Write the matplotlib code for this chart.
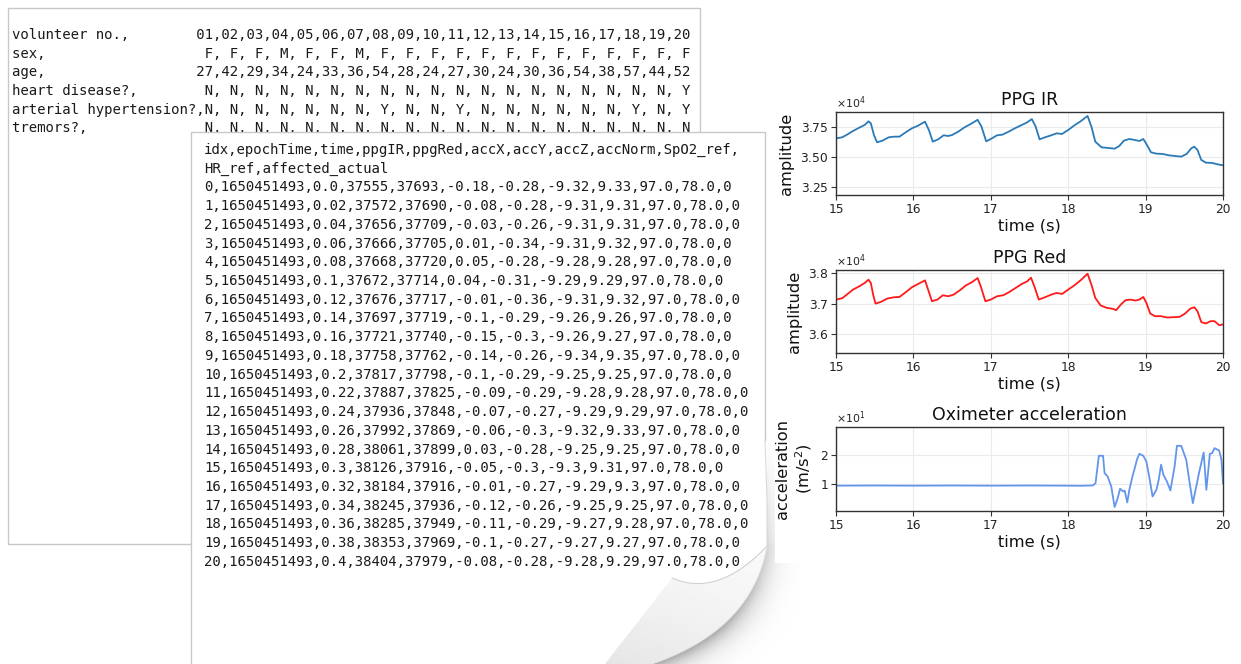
import numpy as np
import matplotlib
matplotlib.use('Agg')
import matplotlib.pyplot as plt
from matplotlib.patches import Polygon, Rectangle

# ---------------- data ----------------
volunteer_no = ['01', '02', '03', '04', '05', '06', '07', '08', '09', '10',
                '11', '12', '13', '14', '15', '16', '17', '18', '19', '20']
sex = ['F', 'F', 'F', 'M', 'F', 'F', 'M', 'F', 'F', 'F',
       'F', 'F', 'F', 'F', 'F', 'F', 'F', 'F', 'F', 'F']
age = [27, 42, 29, 34, 24, 33, 36, 54, 28, 24, 27, 30, 24, 30, 36, 54, 38, 57, 44, 52]
heart_disease = ['N', 'N', 'N', 'N', 'N', 'N', 'N', 'N', 'N', 'N',
                 'N', 'N', 'N', 'N', 'N', 'N', 'N', 'N', 'N', 'Y']
arterial_hypertension = ['N', 'N', 'N', 'N', 'N', 'N', 'N', 'Y', 'N', 'N',
                         'Y', 'N', 'N', 'N', 'N', 'N', 'N', 'Y', 'N', 'Y']
tremors = ['N', 'N', 'N', 'N', 'N', 'N', 'N', 'N', 'N', 'N',
           'N', 'N', 'N', 'N', 'N', 'N', 'N', 'N', 'N', 'N']

csv_columns = ['idx', 'epochTime', 'time', 'ppgIR', 'ppgRed', 'accX', 'accY', 'accZ',
               'accNorm', 'SpO2_ref', 'HR_ref', 'affected_actual']
idx = list(range(21))
epoch_time = [1650451493] * 21
time_s = [0.0, 0.02, 0.04, 0.06, 0.08, 0.1, 0.12, 0.14, 0.16, 0.18, 0.2,
          0.22, 0.24, 0.26, 0.28, 0.3, 0.32, 0.34, 0.36, 0.38, 0.4]
ppg_ir = [37555, 37572, 37656, 37666, 37668, 37672, 37676, 37697, 37721, 37758, 37817,
          37887, 37936, 37992, 38061, 38126, 38184, 38245, 38285, 38353, 38404]
ppg_red = [37693, 37690, 37709, 37705, 37720, 37714, 37717, 37719, 37740, 37762, 37798,
           37825, 37848, 37869, 37899, 37916, 37916, 37936, 37949, 37969, 37979]
acc_x = [-0.18, -0.08, -0.03, 0.01, 0.05, 0.04, -0.01, -0.1, -0.15, -0.14, -0.1,
         -0.09, -0.07, -0.06, 0.03, -0.05, -0.01, -0.12, -0.11, -0.1, -0.08]
acc_y = [-0.28, -0.28, -0.26, -0.34, -0.28, -0.31, -0.36, -0.29, -0.3, -0.26, -0.29,
         -0.29, -0.27, -0.3, -0.28, -0.3, -0.27, -0.26, -0.29, -0.27, -0.28]
acc_z = [-9.32, -9.31, -9.31, -9.31, -9.28, -9.29, -9.31, -9.26, -9.26, -9.34, -9.25,
         -9.28, -9.29, -9.32, -9.25, -9.3, -9.29, -9.25, -9.27, -9.27, -9.28]
acc_norm = [9.33, 9.31, 9.31, 9.32, 9.28, 9.29, 9.32, 9.26, 9.27, 9.35, 9.25,
            9.28, 9.29, 9.33, 9.25, 9.31, 9.3, 9.25, 9.28, 9.27, 9.29]
spo2_ref = [97.0] * 21
hr_ref = [78.0] * 21
affected_actual = [0] * 21

# PPG IR signal (time in s, raw amplitude)
ir_t = [15.00, 15.08, 15.15, 15.22, 15.30, 15.37, 15.42, 15.45, 15.49, 15.53, 15.60, 15.68,
        15.75, 15.82, 15.90, 15.98, 16.06, 16.15, 16.20, 16.25, 16.32, 16.39, 16.45, 16.50,
        16.58, 16.66, 16.74, 16.83, 16.88, 16.94, 17.00, 17.08, 17.15, 17.23, 17.31, 17.40,
        17.47, 17.53, 17.58, 17.63, 17.70, 17.78, 17.85, 17.92, 18.00, 18.08, 18.16, 18.25,
        18.30, 18.35, 18.43, 18.52, 18.60, 18.66, 18.72, 18.79, 18.86, 18.92, 18.97, 19.01,
        19.07, 19.14, 19.22, 19.30, 19.38, 19.46, 19.53, 19.59, 19.63, 19.67, 19.72, 19.78,
        19.86, 19.93, 20.00]
ir_v = [36556, 36639, 36889, 37167, 37444, 37667, 37972, 37806, 36833, 36222, 36361, 36639,
        36694, 36694, 37056, 37389, 37611, 37944, 37250, 36278, 36472, 36806, 36750, 36833,
        37111, 37472, 37750, 38100, 37528, 36306, 36500, 36806, 36861, 37111, 37389, 37667,
        37889, 38160, 37528, 36472, 36639, 36806, 36972, 36917, 37250, 37639, 37972, 38420,
        37528, 36278, 35806, 35750, 35694, 35917, 36361, 36500, 36417, 36333, 36500, 36083,
        35389, 35278, 35250, 35139, 35083, 35028, 35250, 35722, 35861, 35583, 34750, 34528,
        34500, 34389, 34306]

# PPG Red signal
red_t = [15.00, 15.08, 15.15, 15.22, 15.30, 15.37, 15.42, 15.45, 15.48, 15.51, 15.58, 15.66,
         15.75, 15.82, 15.90, 15.98, 16.06, 16.15, 16.19, 16.24, 16.31, 16.38, 16.45, 16.52,
         16.60, 16.68, 16.76, 16.83, 16.87, 16.93, 17.00, 17.08, 17.16, 17.24, 17.32, 17.40,
         17.47, 17.52, 17.57, 17.62, 17.70, 17.78, 17.85, 17.92, 18.00, 18.08, 18.16, 18.25,
         18.30, 18.35, 18.42, 18.50, 18.58, 18.62, 18.68, 18.74, 18.80, 18.87, 18.92, 18.97,
         19.01, 19.06, 19.12, 19.20, 19.28, 19.36, 19.44, 19.51, 19.58, 19.63, 19.67, 19.72,
         19.78, 19.84, 19.89, 19.95, 20.00]
red_v = [37130, 37174, 37315, 37457, 37565, 37674, 37783, 37674, 37293, 37000, 37054, 37163,
         37207, 37217, 37370, 37533, 37641, 37761, 37457, 37076, 37130, 37272, 37239, 37293,
         37435, 37598, 37707, 37837, 37565, 37076, 37130, 37239, 37272, 37380, 37511, 37641,
         37728, 37848, 37511, 37130, 37207, 37293, 37348, 37315, 37457, 37598, 37761, 37978,
         37620, 37185, 36935, 36859, 36826, 36783, 36967, 37109, 37130, 37098, 37130, 37217,
         37022, 36674, 36587, 36587, 36543, 36554, 36565, 36674, 36837, 36880, 36750, 36391,
         36348, 36424, 36424, 36293, 36315]

# Oximeter acceleration norm (m/s^2)
acc_t = [15.00, 15.50, 16.00, 16.50, 17.00, 17.50, 18.00, 18.15, 18.32, 18.353, 18.396,
         18.45, 18.47, 18.51, 18.556, 18.60, 18.64, 18.67, 18.71, 18.73, 18.763, 18.79,
         18.83, 18.86, 18.89, 18.92, 18.97, 19.01, 19.05, 19.09, 19.14, 19.17, 19.20, 19.23,
         19.275, 19.32, 19.375, 19.405, 19.46, 19.525, 19.57, 19.61, 19.655, 19.69, 19.75,
         19.785, 19.83, 19.86, 19.89, 19.95, 19.98, 20.00]
acc_v = [9.45, 9.50, 9.45, 9.50, 9.45, 9.50, 9.45, 9.41, 9.52, 10.3, 19.76,
         19.76, 13.8, 12.6, 9.2, 2.07, 5.17, 8.38, 7.45, 7.7, 3.66, 8.03,
         12.6, 15.5, 18.6, 20.45, 19.76, 17.8, 12.07, 5.7, 8.03, 11.5, 16.7, 13.2,
         10.9, 7.8, 16.1, 23.2, 23.2, 18.4, 10.3, 3.4, 9.2, 13.8, 20.9,
         8.0, 20.45, 20.7, 22.4, 21.6, 18.4, 10.3]

# ---------------- figure ----------------
W, H = 1241, 664
fig = plt.figure(figsize=(W / 100, H / 100), dpi=100)
fig.patch.set_facecolor('white')

cv = fig.add_axes([0, 0, 1, 1])
cv.set_xlim(0, W)
cv.set_ylim(H, 0)
cv.axis('off')
cv.set_zorder(0)

mono = 'DejaVu Sans Mono'
txt_color = '#1a1a1a'
border = '#c8c8c8'

# --- volunteer info box ---
cv.add_patch(Rectangle((8, 8), 692, 536, facecolor='white', edgecolor=border, lw=1.0, zorder=1))
info_labels = ['volunteer no.,', 'sex,', 'age,', 'heart disease?,',
               'arterial hypertension?,', 'tremors?,']
info_values = [','.join(volunteer_no), ', '.join(sex), ','.join(str(a) for a in age),
               ', '.join(heart_disease), ', '.join(arterial_hypertension), ', '.join(tremors)]
line_w = 81
for i, (lab, val) in enumerate(zip(info_labels, info_values)):
    s = lab + val.rjust(line_w - len(lab))
    cv.text(12, 35 + 18.65 * i, s, family=mono, fontsize=10.1, color=txt_color,
            va='center', ha='left', zorder=2)

# --- page curl shadow ---
def qbez(p0, p1, p2, n=60):
    t = np.linspace(0, 1, n)[:, None]
    return (1 - t) ** 2 * np.array(p0) + 2 * (1 - t) * t * np.array(p1) + t ** 2 * np.array(p2)

A = (767, 546)
B = (672, 578)
C = (605, 664)
D = (652, 664)
fold = qbez(A, (718, 598), B)
outer = qbez(D, (752, 630), A)
edge_pts = np.vstack([outer, np.column_stack([np.full(40, 766.0), np.linspace(546, 430, 40)])])

gx0, gx1, gy0, gy1 = 560, 800, 400, 664
xs = np.arange(gx0, gx1) + 0.5
ys = np.arange(gy0, gy1) + 0.5
XX, YY = np.meshgrid(xs, ys)
dmin = np.full(XX.shape, 1e9)
for px, py in edge_pts:
    dmin = np.minimum(dmin, np.hypot(XX - px, YY - py))
strength = np.clip((YY - 430) / 200.0, 0, 1) ** 1.3 * 0.36
alpha = strength * np.exp(-dmin / 11.0)
rgba = np.zeros(XX.shape + (4,))
rgba[..., 3] = alpha
cv.imshow(rgba, extent=(gx0, gx1, gy1, gy0), zorder=3, interpolation='bilinear', aspect='auto')

# --- data page ---
page_pts = np.vstack([[[191, 664], [191, 132], [765, 132], [767, 440], A], fold, [B, C]])
cv.add_patch(Polygon(page_pts, closed=True, facecolor='white', edgecolor='none', zorder=4))
cv.plot([191, 191, 765, 765], [664, 132, 132, 440], color=border, lw=1.0, zorder=5)
cv.plot([765, 767, 767], [440, 500, 546], color='#dadada', lw=0.8, zorder=5)

# curled flap
flap_pts = np.vstack([fold, [B, C, D], outer])
flap = Polygon(flap_pts, closed=True, facecolor='#fafafa', edgecolor='none', zorder=6)
cv.add_patch(flap)
grad = np.zeros((60, 200, 4))
grad[..., :3] = 0.6
gy = np.linspace(0.0, 1.0, 60)[:, None]
gxv = np.linspace(1.0, 0.0, 200)[None, :]
grad[..., 3] = 0.22 * gy * (0.4 + 0.6 * gxv)
gim = cv.imshow(grad, extent=(595, 770, 664, 545), zorder=6.5, aspect='auto',
                interpolation='bilinear')
gim.set_clip_path(flap)
cv.plot(fold[:, 0], fold[:, 1], color='#d2d2d2', lw=0.8, zorder=7)
cv.plot(outer[:, 0], outer[:, 1], color='#e4e4e4', lw=0.6, zorder=7)

header1 = ','.join(csv_columns[:10]) + ','
header2 = ','.join(csv_columns[10:])
rows = [header1, header2]
for k in range(21):
    vals = [idx[k], epoch_time[k], time_s[k], ppg_ir[k], ppg_red[k], acc_x[k], acc_y[k],
            acc_z[k], acc_norm[k], spo2_ref[k], hr_ref[k], affected_actual[k]]
    rows.append(','.join(str(v) for v in vals))
for i, s in enumerate(rows):
    cv.text(204, 150 + 18.72 * i, s, family=mono, fontsize=10.1, color=txt_color,
            va='center', ha='left', zorder=8)

# white background of the plot panel
cv.add_patch(Rectangle((775, 88), W - 775, 563 - 88, facecolor='white', edgecolor='none', zorder=9))

# ---------------- signal panels ----------------
def frac(left, top, right, bottom):
    return [left / W, 1 - bottom / H, (right - left) / W, (bottom - top) / H]

def style(ax, title, ylabel, yticks, ylim):
    ax.set_xlim(15, 20)
    ax.set_xticks([15, 16, 17, 18, 19, 20])
    ax.set_ylim(*ylim)
    ax.set_yticks(yticks)
    ax.grid(True, color='#ebebeb', lw=0.8)
    ax.set_axisbelow(True)
    ax.set_title(title, fontsize=12.5, pad=5, color='#111')
    ax.set_xlabel('time (s)', fontsize=11.7, labelpad=2, color='#111')
    ax.set_ylabel(ylabel, fontsize=11.7, labelpad=4, color='#111')
    ax.tick_params(labelsize=8.8, length=3.5, width=0.8, color='#333', labelcolor='#222', pad=2)
    ax.ticklabel_format(axis='y', style='sci', scilimits=(0, 0), useMathText=True)
    ax.yaxis.get_offset_text().set_fontsize(7.8)
    for sp in ax.spines.values():
        sp.set_color('#333333')
        sp.set_linewidth(1.0)

ax1 = fig.add_axes(frac(836, 112, 1223, 195))
ax1.plot(ir_t, ir_v, color='#2a7ab8', lw=1.3)
style(ax1, 'PPG IR', 'amplitude', [32500, 35000, 37500], (31830, 38750))

ax2 = fig.add_axes(frac(836, 270, 1223, 353))
ax2.plot(red_t, red_v, color='#ff1a1a', lw=1.3)
style(ax2, 'PPG Red', 'amplitude', [36000, 37000, 38000], (35380, 38100))

ax3 = fig.add_axes(frac(836, 427, 1223, 511))
ax3.plot(acc_t, acc_v, color='#6495ed', lw=1.3)
style(ax3, 'Oximeter acceleration', 'acceleration\n(m/s$^2$)', [10, 20], (0.7, 29.7))

for a in (ax1, ax2, ax3):
    a.set_zorder(10)

fig.savefig('out.png', dpi=100, facecolor='white')
